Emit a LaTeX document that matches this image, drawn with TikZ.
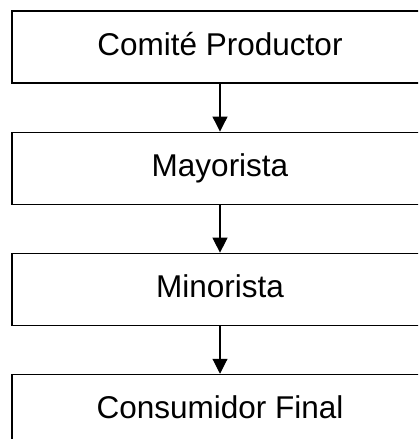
\documentclass[tikz,border=0pt]{standalone}
\usepackage{fontspec}
\setmainfont{Liberation Sans}
\usetikzlibrary{positioning,arrows.meta}
\tikzset{
  etapa/.style={draw, line width=1.1pt, rectangle, minimum width=416pt, minimum height=72pt,
    inner sep=0pt, text height=22.5pt, text depth=6.5pt, font=\fontsize{31.5}{38}\selectfont},
  flecha/.style={line width=1.1pt, -{Triangle[length=15pt,width=15pt]}}
}
\begin{document}
\begin{tikzpicture}[node distance=48pt]
  \clip (0,0) rectangle (418pt,-439pt);
  \node[etapa] (prod) at (220pt,-47pt) {Comité Productor};
  \node[etapa, below=of prod] (may) {Mayorista};
  \node[etapa, below=of may] (min) {Minorista};
  \node[etapa, below=of min] (cons) {Consumidor Final};
  \draw[flecha] (prod) -- (may);
  \draw[flecha] (may) -- (min);
  \draw[flecha] (min) -- (cons);
\end{tikzpicture}
\end{document}
